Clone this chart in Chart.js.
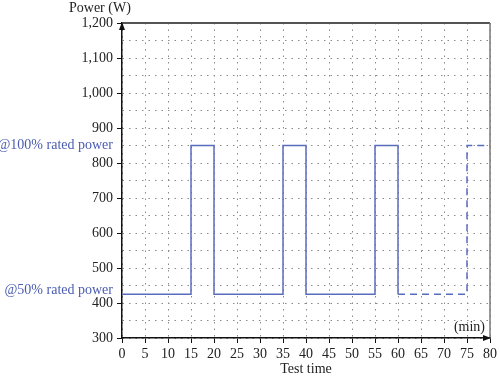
<!DOCTYPE html>
<html>
<head>
<meta charset="utf-8">
<script src="https://cdn.jsdelivr.net/npm/chart.js@4"></script>
<style>
  html, body { margin: 0; padding: 0; background: #fff; }
  #wrap { width: 500px; height: 377px; position: relative; }
</style>
</head>
<body>
<div id="wrap"><canvas id="powerChart"></canvas></div>
<script>
// test profile: times (min) where the power level changes, and the level after that time
const testTimes = [0, 0, 15, 20, 35, 40, 55, 60];
const testPower = [425, 425, 850, 425, 850, 425, 850, 425];
// planned continuation (dashed)
const planTimes = [60, 75, 80];
const planPower = [425, 850, 850];

const xTicks = { min: 0, max: 80, step: 5 };
const yTicks = { min: 300, max: 1200, step: 50 };
const levelLabels = [
  { text: '@100% rated power', value: 850, dy: 0 },
  { text: '@50% rated power', value: 425, dy: -4 }
];

const serif = '"Liberation Serif", "DejaVu Serif", serif';
const lineBlue = '#5a6dbd';
const textBlue = '#4a5cb0';

const toPoints = (xs, ys) => xs.map((x, i) => ({ x, y: ys[i] }));

// extra drawing: borders, arrows, axis captions, level labels
const decorations = {
  id: 'decorations',
  afterDraw(chart) {
    const { ctx, chartArea: a, scales } = chart;
    ctx.save();

    // top and right frame
    ctx.strokeStyle = '#555';
    ctx.lineWidth = 2;
    ctx.beginPath();
    ctx.moveTo(a.left, a.top);
    ctx.lineTo(a.right, a.top);
    ctx.stroke();
    ctx.strokeStyle = '#777';
    ctx.lineWidth = 1.5;
    ctx.beginPath();
    ctx.moveTo(a.right, a.top);
    ctx.lineTo(a.right, a.bottom);
    ctx.stroke();

    // arrow heads
    ctx.fillStyle = '#111';
    ctx.beginPath();
    ctx.moveTo(a.left, a.top - 1);
    ctx.lineTo(a.left - 3, a.top + 7);
    ctx.lineTo(a.left + 3, a.top + 7);
    ctx.closePath();
    ctx.fill();
    ctx.beginPath();
    ctx.moveTo(a.right + 1, a.bottom);
    ctx.lineTo(a.right - 7, a.bottom - 3);
    ctx.lineTo(a.right - 7, a.bottom + 3);
    ctx.closePath();
    ctx.fill();

    // captions
    ctx.fillStyle = '#222';
    ctx.font = '14px ' + serif;
    ctx.textBaseline = 'middle';
    ctx.textAlign = 'left';
    ctx.fillText('Power (W)', 69, 8);
    ctx.textAlign = 'right';
    ctx.fillText('(min)', a.right - 5, a.bottom - 11);
    ctx.textAlign = 'center';
    ctx.fillText('Test time', (a.left + a.right) / 2, 369);

    // level labels
    ctx.fillStyle = textBlue;
    ctx.textAlign = 'right';
    levelLabels.forEach(l => {
      ctx.fillText(l.text, a.left - 9, scales.y.getPixelForValue(l.value) + l.dy);
    });
    ctx.restore();
  }
};

const ctx = document.getElementById('powerChart').getContext('2d');
new Chart(ctx, {
  type: 'line',
  data: {
    datasets: [{
      data: toPoints(testTimes, testPower),
      borderColor: lineBlue,
      borderWidth: 1.5,
      stepped: 'before',
      pointRadius: 0,
      fill: false
    }, {
      data: toPoints(planTimes, planPower),
      borderColor: lineBlue,
      borderWidth: 1.5,
      borderDash: [7, 5],
      stepped: 'before',
      pointRadius: 0,
      fill: false
    }]
  },
  plugins: [decorations],
  options: {
    responsive: true,
    maintainAspectRatio: false,
    animation: false,
    layout: { padding: { top: 23, right: 7, bottom: 0, left: 0 } },
    plugins: { legend: { display: false }, tooltip: { enabled: false } },
    scales: {
      x: {
        type: 'linear',
        min: xTicks.min,
        max: xTicks.max,
        afterFit: s => { s.height = 39; },
        border: { color: '#111', width: 1.5, dash: [1.5, 5] },
        grid: {
          color: '#8a8a8a',
          lineWidth: 1,
          tickLength: 5,
          tickColor: '#111'
        },
        ticks: {
          stepSize: xTicks.step,
          autoSkip: false,
          maxRotation: 0,
          padding: 3,
          color: '#222',
          font: { family: serif, size: 14 }
        }
      },
      y: {
        min: yTicks.min,
        max: yTicks.max,
        afterFit: s => { s.width = 122; },
        border: { color: '#111', width: 1.5, dash: [1.5, 5] },
        grid: {
          color: '#8a8a8a',
          lineWidth: 1,
          tickLength: 5,
          tickColor: c => (c.tick && c.tick.value % 100 === 0 ? '#111' : 'rgba(0,0,0,0)')
        },
        ticks: {
          stepSize: yTicks.step,
          autoSkip: false,
          padding: 4,
          color: '#222',
          font: { family: serif, size: 14 },
          callback: v => (v % 100 === 0 ? v.toLocaleString('en-US') : '')
        }
      }
    }
  }
});
</script>
</body>
</html>
